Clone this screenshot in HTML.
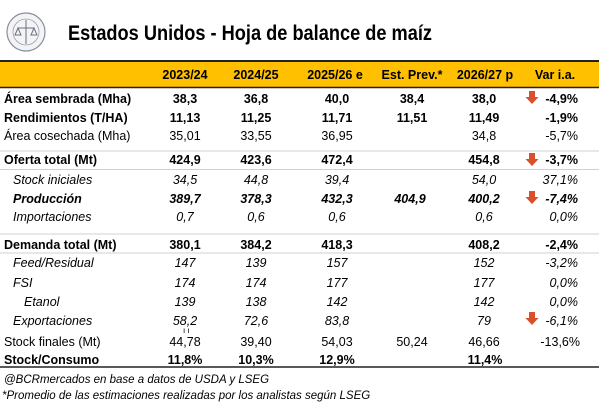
<!DOCTYPE html>
<html><head><meta charset="utf-8"><style>
html,body{margin:0;padding:0;background:#fff;}
svg{display:block;}
text{font-family:"Liberation Sans",sans-serif;font-size:12.5px;fill:#000;}
.b{font-weight:bold;}
.i{font-style:italic;}
.c{text-anchor:middle;}
.r{text-anchor:end;}
</style></head><body>
<svg width="600" height="402" viewBox="0 0 600 402" xmlns="http://www.w3.org/2000/svg">
<rect width="600" height="402" fill="#fff"/>
<!-- logo -->
<circle cx="26" cy="32" r="19" fill="#f4f4f6" stroke="#8a8fa0" stroke-width="1.2"/>
<circle cx="26" cy="32" r="13" fill="none" stroke="#9aa0b0" stroke-width="0.8"/>
<path d="M26 20 V44 M18 28 H34 M18 28 L15 35 H21 Z M34 28 L31 35 H37 Z" stroke="#6a7080" stroke-width="1" fill="none"/>
<text x="68" y="40" class="b" style="font-size:21px" textLength="364" lengthAdjust="spacingAndGlyphs">Estados Unidos - Hoja de balance de maíz</text>
<!-- header -->
<rect x="0" y="61" width="599" height="26" fill="#FFC000"/>
<line x1="0" y1="61" x2="599" y2="61" stroke="#222" stroke-width="2"/>
<line x1="0" y1="87.5" x2="599" y2="87.5" stroke="#222" stroke-width="1.5"/>
<g class="b">
<text x="185" y="79" class="c b">2023/24</text>
<text x="256" y="79" class="c b">2024/25</text>
<text x="335" y="79" class="c b">2025/26 e</text>
<text x="412" y="79" class="c b">Est. Prev.*</text>
<text x="485" y="79" class="c b">2026/27 p</text>
<text x="555" y="79" class="c b">Var i.a.</text>
</g>
<!-- separators -->
<g stroke="#d0d0d0" stroke-width="1">
<line x1="0" y1="151" x2="599" y2="151"/>
<line x1="0" y1="169.5" x2="599" y2="169.5"/>
<line x1="0" y1="234" x2="599" y2="234"/>
<line x1="0" y1="253" x2="599" y2="253"/>
</g>
<line x1="0" y1="367" x2="599" y2="367" stroke="#222" stroke-width="1.5"/>
<!-- arrows -->
<defs><path id="ar" d="M-3 -7 H3 V-1 H6.5 L0 6 L-6.5 -1 H-3 Z" fill="#D9502A"/></defs>
<use href="#ar" x="532" y="98"/>
<use href="#ar" x="532" y="160"/>
<use href="#ar" x="532" y="198"/>
<use href="#ar" x="532" y="319"/>
<!-- rows -->
<g>
<text x="4" y="103" class="b">Área sembrada (Mha)</text>
<text x="185" y="103" class="c b">38,3</text><text x="256" y="103" class="c b">36,8</text><text x="337" y="103" class="c b">40,0</text><text x="412" y="103" class="c b">38,4</text><text x="484" y="103" class="c b">38,0</text><text x="578" y="103" class="r b">-4,9%</text>

<text x="4" y="122" class="b">Rendimientos (T/HA)</text>
<text x="185" y="122" class="c b">11,13</text><text x="256" y="122" class="c b">11,25</text><text x="337" y="122" class="c b">11,71</text><text x="412" y="122" class="c b">11,51</text><text x="484" y="122" class="c b">11,49</text><text x="578" y="122" class="r b">-1,9%</text>

<text x="4" y="140">Área cosechada (Mha)</text>
<text x="185" y="140" class="c">35,01</text><text x="256" y="140" class="c">33,55</text><text x="337" y="140" class="c">36,95</text><text x="484" y="140" class="c">34,8</text><text x="578" y="140" class="r">-5,7%</text>

<text x="4" y="164" class="b">Oferta total (Mt)</text>
<text x="185" y="164" class="c b">424,9</text><text x="256" y="164" class="c b">423,6</text><text x="337" y="164" class="c b">472,4</text><text x="484" y="164" class="c b">454,8</text><text x="578" y="164" class="r b">-3,7%</text>

<text x="13" y="184" class="i">Stock iniciales</text>
<text x="185" y="184" class="c i">34,5</text><text x="256" y="184" class="c i">44,8</text><text x="337" y="184" class="c i">39,4</text><text x="484" y="184" class="c i">54,0</text><text x="578" y="184" class="r i">37,1%</text>

<text x="13" y="203" class="b i">Producción</text>
<text x="185" y="203" class="c b i">389,7</text><text x="256" y="203" class="c b i">378,3</text><text x="337" y="203" class="c b i">432,3</text><text x="410" y="203" class="c b i">404,9</text><text x="484" y="203" class="c b i">400,2</text><text x="578" y="203" class="r b i">-7,4%</text>

<text x="13" y="221" class="i">Importaciones</text>
<text x="185" y="221" class="c i">0,7</text><text x="256" y="221" class="c i">0,6</text><text x="337" y="221" class="c i">0,6</text><text x="484" y="221" class="c i">0,6</text><text x="578" y="221" class="r i">0,0%</text>

<text x="4" y="249" class="b">Demanda total (Mt)</text>
<text x="185" y="249" class="c b">380,1</text><text x="256" y="249" class="c b">384,2</text><text x="337" y="249" class="c b">418,3</text><text x="484" y="249" class="c b">408,2</text><text x="578" y="249" class="r b">-2,4%</text>

<text x="13" y="267" class="i">Feed/Residual</text>
<text x="185" y="267" class="c i">147</text><text x="256" y="267" class="c i">139</text><text x="337" y="267" class="c i">157</text><text x="484" y="267" class="c i">152</text><text x="578" y="267" class="r i">-3,2%</text>

<text x="13" y="287" class="i">FSI</text>
<text x="185" y="287" class="c i">174</text><text x="256" y="287" class="c i">174</text><text x="337" y="287" class="c i">177</text><text x="484" y="287" class="c i">177</text><text x="578" y="287" class="r i">0,0%</text>

<text x="24" y="306" class="i">Etanol</text>
<text x="185" y="306" class="c i">139</text><text x="256" y="306" class="c i">138</text><text x="337" y="306" class="c i">142</text><text x="484" y="306" class="c i">142</text><text x="578" y="306" class="r i">0,0%</text>

<text x="13" y="325" class="i">Exportaciones</text>
<text x="185" y="325" class="c i">58,2</text><text x="256" y="325" class="c i">72,6</text><text x="337" y="325" class="c i">83,8</text><text x="484" y="325" class="c i">79</text><text x="578" y="325" class="r i">-6,1%</text>
<text x="183" y="333" style="font-size:8px">ı ı</text>

<text x="4" y="346">Stock finales (Mt)</text>
<text x="185" y="346" class="c">44,78</text><text x="256" y="346" class="c">39,40</text><text x="337" y="346" class="c">54,03</text><text x="412" y="346" class="c">50,24</text><text x="484" y="346" class="c">46,66</text><text x="580" y="346" class="r">-13,6%</text>

<text x="4" y="364" class="b">Stock/Consumo</text>
<text x="185" y="364" class="c b">11,8%</text><text x="256" y="364" class="c b">10,3%</text><text x="337" y="364" class="c b">12,9%</text><text x="485" y="364" class="c b">11,4%</text>

<text x="4" y="383" class="i" style="font-size:11.5px">@BCRmercados en base a datos de USDA y LSEG</text>
<text x="2" y="399" class="i" style="font-size:11.5px">*Promedio de las estimaciones realizadas por los analistas según LSEG</text>
</g>
</svg>
</body></html>
